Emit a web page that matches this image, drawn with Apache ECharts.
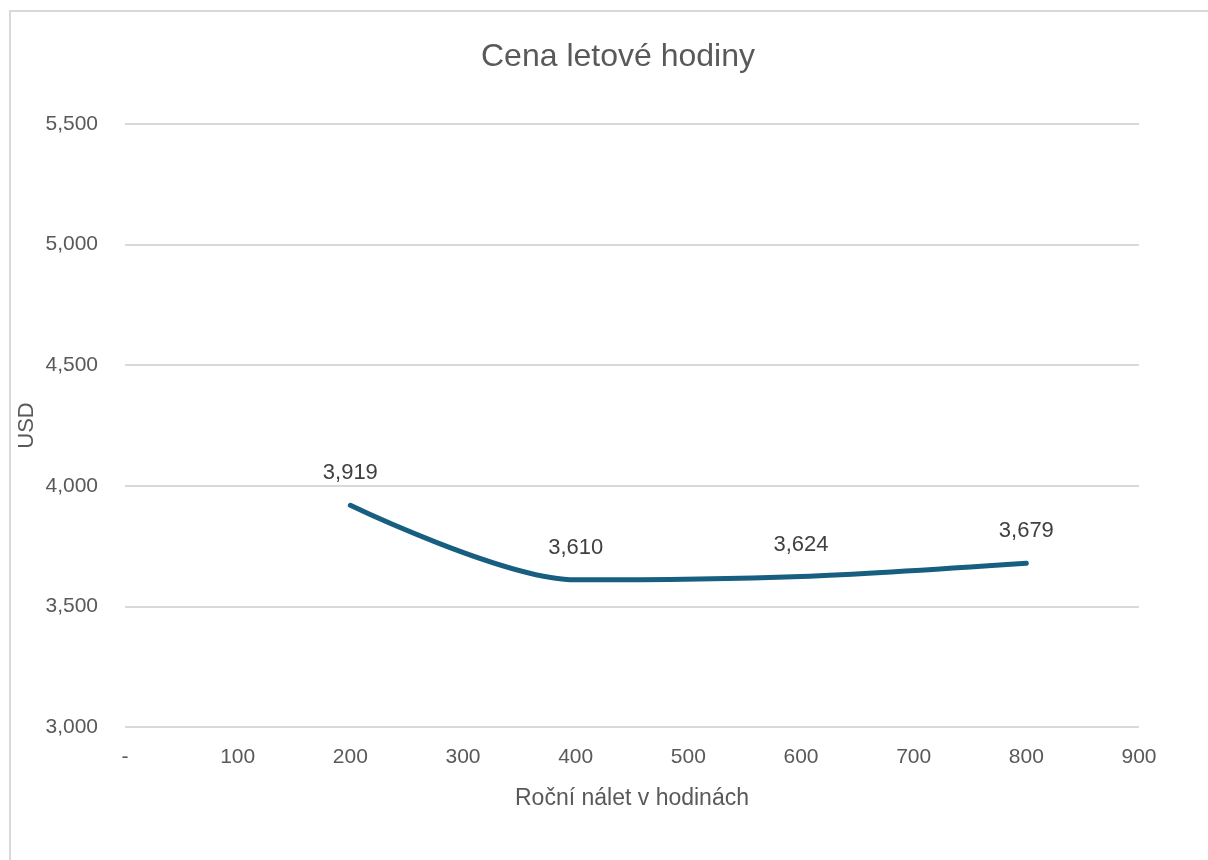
<!DOCTYPE html>
<html>
<head>
<meta charset="utf-8">
<script src="https://cdn.jsdelivr.net/npm/echarts@6/dist/echarts.min.js"></script>
<style>
  html, body { margin: 0; padding: 0; background: #fff; }
  #chart { width: 1208px; height: 860px; }
</style>
</head>
<body>
<div id="chart"></div>
<script>
// Roční nálet (hodiny) a cena letové hodiny (USD)
const hours = [200, 400, 600, 800];
const costUsd = [3919, 3610, 3624, 3679];

const titleText = 'Cena letové hodiny';
const xAxisName = 'Roční nálet v hodinách';
const yAxisName = 'USD';

const FONT = '"Liberation Sans", Arial, sans-serif';

function fmtThousands(v) {
  if (v === 0) return '-';
  return String(v).replace(/\B(?=(\d{3})+(?!\d))/g, ',');
}

const chart = echarts.init(document.getElementById('chart'));
chart.setOption({
  backgroundColor: '#ffffff',
  animation: false,
  textStyle: { fontFamily: FONT },
  graphic: [{
    type: 'rect',
    shape: { x: 10, y: 11, width: 1300, height: 1000 },
    style: { fill: 'none', stroke: '#d9d9d9', lineWidth: 2 },
    silent: true
  }],
  title: {
    text: titleText,
    left: 476,
    top: 36,
    textStyle: { fontFamily: FONT, fontSize: 32, fontWeight: 'normal', color: '#595959' }
  },
  grid: { left: 125, right: 69, top: 124, bottom: 133, containLabel: false },
  xAxis: {
    type: 'value',
    min: 0, max: 900, interval: 100,
    name: xAxisName,
    nameLocation: 'middle',
    nameGap: 60,
    nameTextStyle: { fontFamily: FONT, fontSize: 23, color: '#595959' },
    axisLine: { show: false },
    axisTick: { show: false },
    splitLine: { show: false },
    axisLabel: {
      margin: 20,
      fontFamily: FONT, fontSize: 21, color: '#595959',
      formatter: fmtThousands
    }
  },
  yAxis: {
    type: 'value',
    min: 3000, max: 5500, interval: 500,
    name: yAxisName,
    nameLocation: 'middle',
    nameGap: 87,
    nameMoveOverlap: false,
    nameTextStyle: { fontFamily: FONT, fontSize: 22, color: '#595959' },
    axisLine: { show: false },
    axisTick: { show: false },
    splitLine: { lineStyle: { color: '#d9d9d9', width: 2 } },
    axisLabel: {
      margin: 27,
      fontFamily: FONT, fontSize: 21, color: '#595959',
      formatter: fmtThousands
    }
  },
  series: [{
    type: 'line',
    data: hours.map((h, i) => [h, costUsd[i]]),
    smooth: 0.3,
    symbol: 'circle',
    symbolSize: 2,
    showSymbol: true,
    itemStyle: { color: 'rgba(0,0,0,0)', borderWidth: 0 },
    lineStyle: { color: '#175e80', width: 5, cap: 'round' },
    label: {
      show: true,
      position: 'top',
      distance: 20,
      fontFamily: FONT, fontSize: 22, color: '#404040',
      formatter: p => fmtThousands(p.value[1])
    }
  }]
});
</script>
</body>
</html>
